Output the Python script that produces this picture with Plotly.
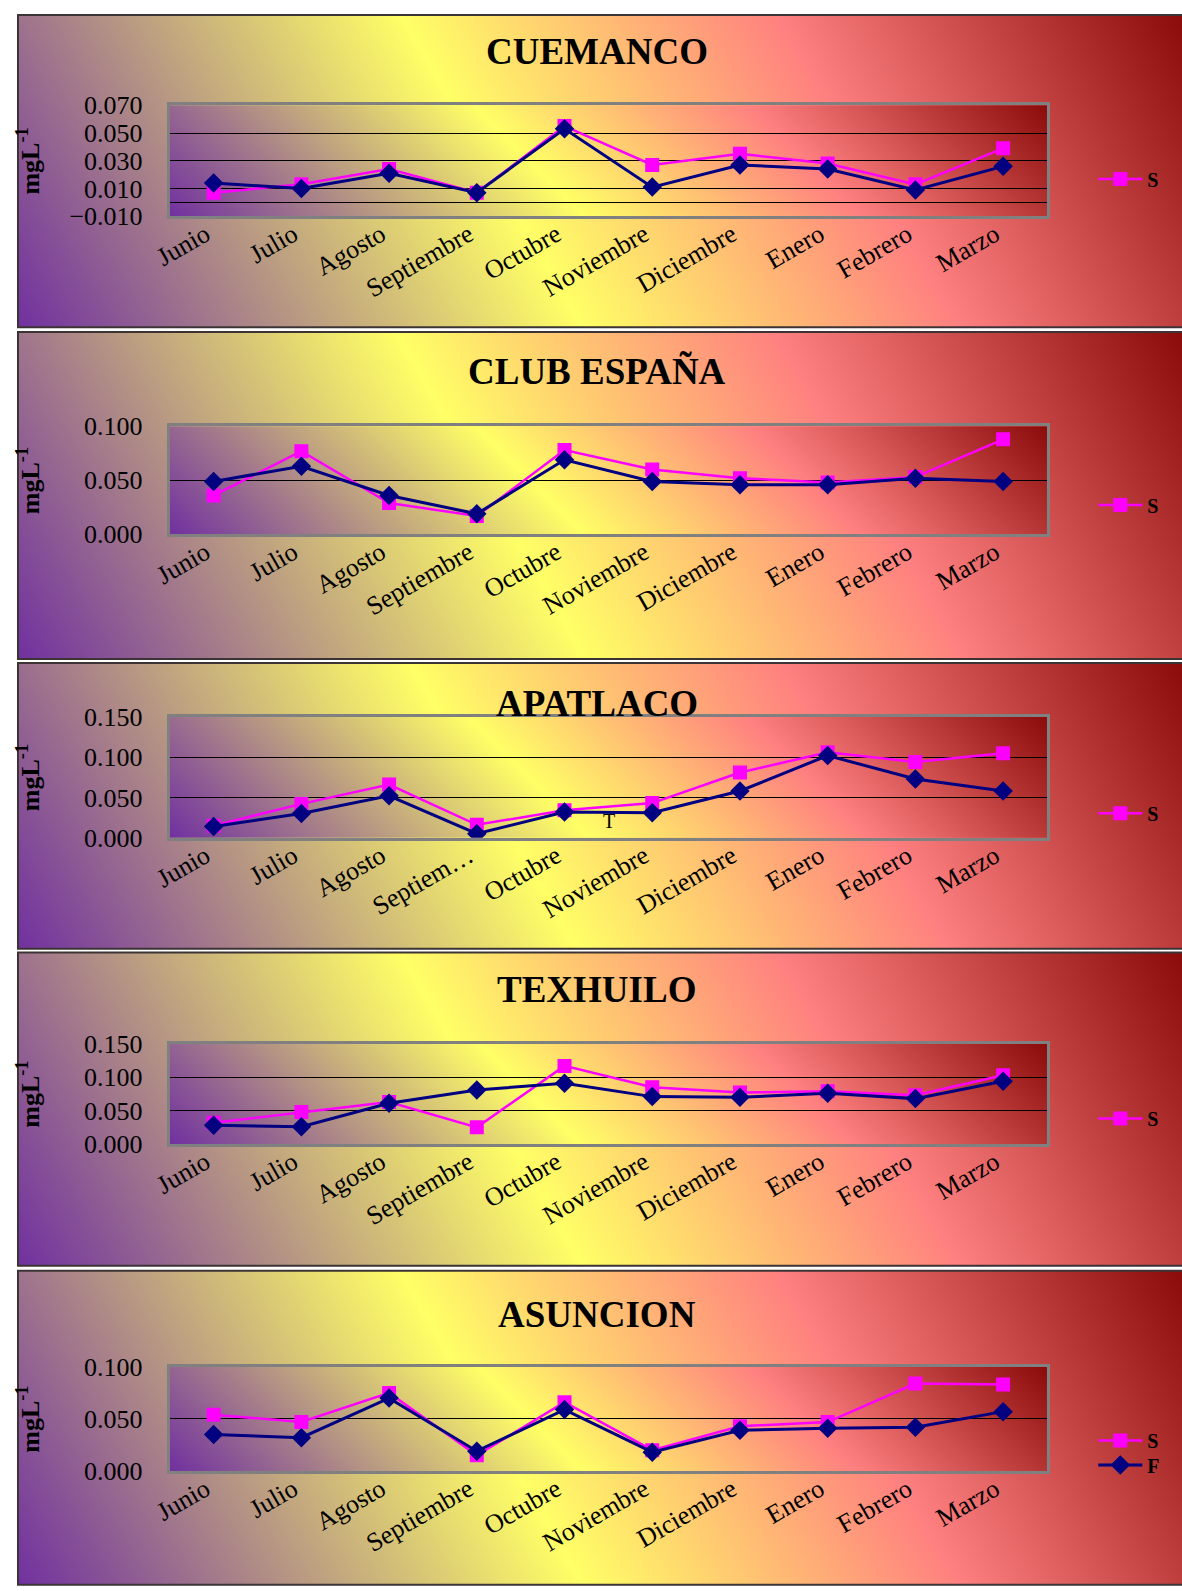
import base64
import math
import plotly.graph_objects as go

W, H = 1182, 1591
FONT = "Liberation Serif, Times New Roman, serif"

# Months of the sampling campaign
meses = ["Junio", "Julio", "Agosto", "Septiembre", "Octubre",
         "Noviembre", "Diciembre", "Enero", "Febrero", "Marzo"]
meses_apatlaco = ["Junio", "Julio", "Agosto", "Septiem…", "Octubre",
                  "Noviembre", "Diciembre", "Enero", "Febrero", "Marzo"]

# Concentrations (mg L-1), series S and F per site
cuemanco_s = [0.007, 0.013, 0.024, 0.007, 0.055, 0.027, 0.035, 0.028, 0.013, 0.039]
cuemanco_f = [0.014, 0.010, 0.021, 0.007, 0.053, 0.011, 0.027, 0.024, 0.009, 0.026]

club_s = [0.036, 0.077, 0.029, 0.017, 0.078, 0.060, 0.052, 0.048, 0.053, 0.088]
club_f = [0.049, 0.063, 0.036, 0.019, 0.069, 0.049, 0.046, 0.046, 0.052, 0.049]

apatlaco_s = [0.015, 0.042, 0.066, 0.016, 0.034, 0.043, 0.081, 0.106, 0.094, 0.105]
apatlaco_f = [0.014, 0.030, 0.052, 0.005, 0.032, 0.031, 0.058, 0.102, 0.073, 0.058]

texhuilo_s = [0.032, 0.048, 0.063, 0.025, 0.117, 0.085, 0.077, 0.079, 0.073, 0.103]
texhuilo_f = [0.028, 0.026, 0.061, 0.081, 0.091, 0.071, 0.070, 0.076, 0.068, 0.094]

asuncion_s = [0.054, 0.047, 0.075, 0.015, 0.066, 0.020, 0.043, 0.047, 0.084, 0.083]
asuncion_f = [0.035, 0.032, 0.070, 0.019, 0.059, 0.018, 0.039, 0.041, 0.042, 0.057]

sitios = ["CUEMANCO", "CLUB ESPAÑA", "APATLACO", "TEXHUILO", "ASUNCION"]
series_s = [cuemanco_s, club_s, apatlaco_s, texhuilo_s, asuncion_s]
series_f = [cuemanco_f, club_f, apatlaco_f, texhuilo_f, asuncion_f]
etiquetas = [meses, meses, meses_apatlaco, meses, meses]
rangos_y = [(-0.01, 0.07, 0.02), (0.0, 0.10, 0.05), (0.0, 0.15, 0.05),
            (0.0, 0.15, 0.05), (0.0, 0.10, 0.05)]

# Pixel layout of each chart block:
# panel top/bottom, plot top/bottom, title y, legend y for S, legend y for F
bloques = [
    (1, 319, 93, 206, 38, 168, None),
    (324, 657, 420, 530, 364, 500, None),
    (661, 952, 716, 839, 702, 814, None),
    (956, 1275, 1049, 1151, 994, 1125, None),
    (1280, 1600, 1378, 1484, 1325, 1453, 1478),
]
PLOT_X0, PLOT_X1 = 155, 1045
PANEL_X0 = 0
TITLE_X = 588
YTITLE_X = 12
LEGEND_X = 1092


def px_x(v):
    return v / W


def px_y(v):
    return 1 - v / H


def gradiente(w, h, angulo):
    a = math.radians(angulo)
    t = w * math.cos(a) + h * math.sin(a)
    x2 = t * math.cos(a)
    y2 = h - t * math.sin(a)
    svg = (
        f'<svg xmlns="http://www.w3.org/2000/svg" width="{w}" height="{h}" '
        f'viewBox="0 0 {w} {h}" preserveAspectRatio="none">'
        f'<defs><linearGradient id="g" gradientUnits="userSpaceOnUse" '
        f'x1="0" y1="{h}" x2="{x2:.1f}" y2="{y2:.1f}">'
        '<stop offset="0" stop-color="#7030A0"/>'
        '<stop offset="0.42" stop-color="#FFFF66"/>'
        '<stop offset="0.70" stop-color="#FF8080"/>'
        '<stop offset="1" stop-color="#8B0A0A"/>'
        '</linearGradient></defs>'
        f'<rect width="{w}" height="{h}" fill="url(#g)"/></svg>'
    )
    return "data:image/svg+xml;base64," + base64.b64encode(svg.encode()).decode()


def leyenda(y):
    return dict(
        x=px_x(LEGEND_X), y=px_y(y), xanchor="left", yanchor="middle",
        bgcolor="rgba(0,0,0,0)", borderwidth=0, tracegroupgap=0, itemwidth=44,
        font=dict(family=FONT, size=20, color="black", weight="bold"),
    )


fig = go.Figure()
images, shapes, annotations = [], [], []

for i, (sitio, s, f, etq, (y0, y1, dt), bl) in enumerate(
        zip(sitios, series_s, series_f, etiquetas, rangos_y, bloques)):
    n = "" if i == 0 else str(i + 1)
    leg = "legend" + n
    p_top, p_bot, a_top, a_bot, t_y, ls_y, lf_y = bl

    # panel background and plot-area background
    pw, ph = W - PANEL_X0, p_bot - p_top
    images.append(dict(source=gradiente(pw, ph, 30), xref="paper", yref="paper",
                       x=px_x(PANEL_X0), y=px_y(p_top), sizex=pw / W, sizey=ph / H,
                       xanchor="left", yanchor="top", sizing="stretch", layer="below"))
    aw, ah = PLOT_X1 - PLOT_X0, a_bot - a_top
    images.append(dict(source=gradiente(aw, ah, 45), xref="paper", yref="paper",
                       x=px_x(PLOT_X0), y=px_y(a_top), sizex=aw / W, sizey=ah / H,
                       xanchor="left", yanchor="top", sizing="stretch", layer="below"))
    shapes.append(dict(type="rect", xref="paper", yref="paper",
                       x0=px_x(PANEL_X0 + 1), x1=px_x(W + 4), y0=px_y(p_bot), y1=px_y(p_top),
                       line=dict(color="#3c3434", width=2), fillcolor="rgba(0,0,0,0)",
                       layer="above"))

    fig.add_trace(go.Scatter(
        x=meses, y=s, name="S", mode="lines+markers",
        xaxis="x" + n, yaxis="y" + n, legend=leg,
        line=dict(color="#FF00FF", width=2.5),
        marker=dict(symbol="square", size=14, color="#FF00FF"),
    ))
    leg_f = leg if lf_y is None else "legend" + str(i + 2)
    fig.add_trace(go.Scatter(
        x=meses, y=f, name="F", mode="lines+markers",
        xaxis="x" + n, yaxis="y" + n, legend=leg_f, showlegend=lf_y is not None,
        line=dict(color="#000080", width=3),
        marker=dict(symbol="diamond", size=15, color="#000080"),
    ))

    fig.layout["xaxis" + n] = dict(
        domain=[px_x(PLOT_X0), px_x(PLOT_X1)], anchor="y" + n,
        range=[-0.5, 9.5], tickmode="array", tickvals=meses, ticktext=etq,
        tickangle=-30, tickfont=dict(family=FONT, size=26, color="black"),
        showgrid=False, showline=True, mirror=True, linecolor="#808080", linewidth=3,
        ticks="", zeroline=False, ticklabelstandoff=-10, ticklabelshift=-8,
    )
    fig.layout["yaxis" + n] = dict(
        domain=[px_y(a_bot), px_y(a_top)], anchor="x" + n,
        range=[y0, y1], tick0=y0, dtick=dt, tickformat=".3f",
        tickfont=dict(family=FONT, size=26, color="black"),
        showgrid=True, gridcolor="black", gridwidth=1,
        zeroline=(y0 < 0), zerolinecolor="black", zerolinewidth=1,
        showline=True, mirror=True, linecolor="#808080", linewidth=3,
        ticks="", ticklabelstandoff=19,
    )
    fig.layout[leg] = leyenda(ls_y)
    if lf_y is not None:
        fig.layout[leg_f] = leyenda(lf_y)

    annotations.append(dict(
        text="<b>" + sitio + "</b>", xref="paper", yref="paper",
        x=px_x(TITLE_X), y=px_y(t_y), xanchor="center", yanchor="middle",
        showarrow=False, font=dict(family=FONT, size=37, color="black"),
    ))
    annotations.append(dict(
        text="<b>mgL<sup>-1</sup></b>", xref="paper", yref="paper",
        x=px_x(YTITLE_X), y=px_y((a_top + a_bot) / 2), xanchor="center", yanchor="middle",
        textangle=-90, showarrow=False, font=dict(family=FONT, size=26, color="black"),
    ))

annotations.append(dict(
    text="T", xref="paper", yref="paper", x=px_x(601), y=px_y(822),
    xanchor="center", yanchor="middle", showarrow=False,
    font=dict(family=FONT, size=20, color="black"),
))

fig.update_layout(
    width=W, height=H, margin=dict(l=0, r=0, t=0, b=0),
    paper_bgcolor="white", plot_bgcolor="rgba(0,0,0,0)",
    images=images, shapes=shapes, annotations=annotations,
    font=dict(family=FONT, color="black"),
)

fig.write_html("out.html")
